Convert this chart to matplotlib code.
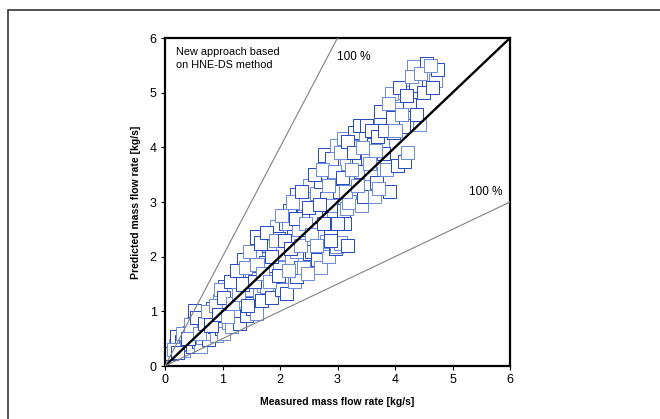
import numpy as np
import matplotlib
matplotlib.use('Agg')
import matplotlib.pyplot as plt
from matplotlib.patches import Rectangle

plt.rcParams['font.family'] = ['Liberation Sans', 'DejaVu Sans']

# measured vs predicted mass flow rate [kg/s]
measured = [0.12, 0.18, 0.20, 0.25, 0.28, 0.32, 0.35, 0.38, 0.42, 0.43, 0.47, 0.50, 0.52, 0.55,
            0.58, 0.61, 0.62, 0.66, 0.70, 0.72, 0.75, 0.78, 0.82, 0.84, 0.86, 0.90, 0.92, 0.95,
            0.98, 1.01, 1.04, 1.05, 1.07, 1.10, 1.12, 1.15, 1.19, 1.22, 1.25, 1.28, 1.30, 1.33,
            1.36, 1.38, 1.42, 1.45, 1.48, 1.50, 1.52, 1.57, 1.59, 1.59, 1.62, 1.65, 1.68, 1.71,
            1.74, 1.77, 1.80, 1.83, 1.85, 1.88, 1.90, 1.94, 1.97, 2.00, 2.03, 2.05, 2.09, 2.12,
            2.12, 2.14, 2.17, 2.20, 2.23, 2.26, 2.29, 2.29, 2.29, 2.33, 2.36, 2.41, 2.41, 2.43,
            2.45, 2.48, 2.52, 2.52, 2.55, 2.58, 2.61, 2.64, 2.66, 2.70, 2.70, 2.72, 2.78, 2.81,
            2.81, 2.85, 2.87, 2.90, 2.90, 2.93, 2.96, 2.99, 2.99, 2.99, 3.03, 3.05, 3.10, 3.10,
            3.12, 3.16, 3.16, 3.16, 3.18, 3.20, 3.22, 3.25, 3.30, 3.33, 3.36, 3.36, 3.40, 3.42,
            3.45, 3.48, 3.52, 3.57, 3.62, 3.65, 3.68, 3.74, 3.74, 3.78, 3.80, 3.85, 3.91, 3.94,
            3.97, 4.03, 4.05, 4.10, 4.15, 4.16, 4.17, 4.22, 4.25, 4.33, 4.35, 4.42, 4.54, 4.71,
            4.74,
            0.15, 0.22, 0.30, 0.40, 0.45, 0.55, 0.60, 0.68, 0.74, 0.80, 0.88, 0.93, 0.97, 1.02,
            1.08, 1.14, 1.18, 1.24, 1.27, 1.35, 1.40, 1.44, 1.47, 1.55, 1.60, 1.66, 1.70, 1.76,
            1.82, 1.86, 1.92, 1.98, 2.02, 2.07, 2.15, 2.18, 2.22, 2.27, 2.35, 2.38, 2.44, 2.50,
            2.54, 2.60, 2.63, 2.68, 2.74, 2.76, 2.84, 2.88, 2.94, 3.00, 3.06, 3.08, 3.14, 3.18,
            3.24, 3.28, 3.34, 3.38, 3.44, 3.50, 3.55, 3.60, 3.66, 3.70, 3.72, 3.82, 3.88, 3.95,
            4.00, 4.08, 4.12, 4.20, 4.28, 4.38, 4.45, 4.50, 4.62, 4.66]
predicted = [0.22, 0.38, 0.54, 0.30, 0.45, 0.29, 0.52, 0.40, 0.62, 0.41, 0.35, 0.78, 1.02, 0.55,
             0.45, 0.35, 0.70, 0.52, 0.88, 0.66, 0.48, 0.60, 1.05, 0.90, 0.72, 0.55, 0.82, 1.20,
             0.68, 0.60, 1.45, 0.95, 1.15, 0.80, 1.30, 0.72, 1.33, 1.02, 0.96, 1.55, 0.78, 1.66,
             1.94, 1.20, 0.92, 1.40, 1.15, 1.75, 1.05, 2.03, 2.36, 0.96, 1.60, 1.33, 1.20, 1.48,
             1.90, 1.45, 2.20, 1.81, 1.25, 2.18, 1.60, 2.55, 2.33, 1.81, 1.40, 2.05, 2.61, 1.63,
             1.33, 2.61, 2.85, 1.95, 2.36, 1.55, 1.63, 2.09, 3.13, 2.50, 1.80, 1.81, 2.82, 2.97,
             2.25, 1.70, 2.06, 3.31, 2.09, 2.60, 2.73, 3.16, 1.95, 1.81, 3.37, 2.40, 3.86, 2.27,
             3.07, 2.00, 2.49, 2.94, 3.80, 2.70, 2.15, 2.18, 3.43, 4.04, 3.20, 2.25, 2.85, 4.16,
             2.60, 2.88, 3.65, 3.71, 2.20, 3.00, 4.04, 3.40, 4.28, 3.83, 3.77, 4.01, 3.55, 2.94,
             3.10, 4.20, 3.80, 3.52, 4.06, 3.10, 3.35, 4.51, 4.65, 4.10, 3.89, 3.60, 3.19, 4.98,
             4.28, 4.71, 3.67, 4.45, 4.39, 5.01, 3.74, 3.90, 4.79, 5.47, 5.14, 4.42, 5.54, 5.23,
             5.42,
             0.30, 0.25, 0.60, 0.50, 0.75, 0.88, 0.60, 0.78, 1.00, 0.75, 1.10, 0.95, 1.40, 1.25,
             0.90, 1.55, 1.15, 1.75, 1.30, 1.50, 1.80, 1.10, 2.10, 1.55, 1.85, 2.25, 1.70, 2.45,
             1.55, 2.00, 2.30, 1.65, 2.75, 2.30, 1.75, 2.15, 3.00, 2.70, 2.20, 3.20, 2.60, 2.90,
             2.40, 3.50, 2.20, 2.95, 3.60, 2.60, 3.30, 2.30, 3.55, 2.60, 3.90, 3.45, 3.20, 4.10,
             3.60, 3.90, 3.30, 4.40, 4.00, 4.40, 3.70, 4.30, 3.95, 4.20, 3.25, 4.30, 4.80, 4.55,
             4.30, 5.10, 4.60, 4.95, 5.30, 4.60, 5.35, 5.00, 5.50, 5.10]

ticks = [0, 1, 2, 3, 4, 5, 6]

fig = plt.figure(figsize=(6.6, 4.19), dpi=100)
ax = fig.add_axes([165/660, 53/419, 345/660, 328/419])

edge = ['#2448c0' if i % 2 == 0 else '#6a8ad8' for i in range(len(measured))]
ax.scatter(measured, predicted, s=88, marker='s', facecolors='white',
           edgecolors=edge, linewidths=0.7, zorder=2)

# 1:1 line and +-100 % lines
ax.plot([0, 6], [0, 6], color='black', lw=1.7, zorder=3)
ax.plot([0, 3], [0, 6], color='#808080', lw=0.8, zorder=3)
ax.plot([0, 6], [0, 3], color='#808080', lw=0.8, zorder=3)

ax.set_xlim(0, 6)
ax.set_ylim(0, 6)
ax.set_xticks(ticks)
ax.set_yticks(ticks)
ax.tick_params(direction='out', length=3, width=0.8, labelsize=9, pad=3)
for sp in ax.spines.values():
    sp.set_linewidth(1.6)

ax.set_xlabel('Measured mass flow rate [kg/s]', fontsize=7.5, fontweight='bold', labelpad=8)
ax.set_ylabel('Predicted mass flow rate [kg/s]', fontsize=7.5, fontweight='bold', labelpad=6)

ax.text(0.19, 5.83, 'New approach based\non HNE-DS method', fontsize=7.8, va='top',
        ha='left', linespacing=1.3)
ax.text(2.99, 5.66, '100 %', fontsize=8.5, va='center', ha='left')
ax.text(5.29, 3.18, '100 %', fontsize=8.5, va='center', ha='left')

# outer frame of the original figure
fig.add_artist(Rectangle((8/660, -0.1), 1.2, 1.0 - 10.5/419 + 0.1,
                         transform=fig.transFigure, fill=False, lw=1.2, ec='#333333'))

fig.savefig('out.png', dpi=100)
